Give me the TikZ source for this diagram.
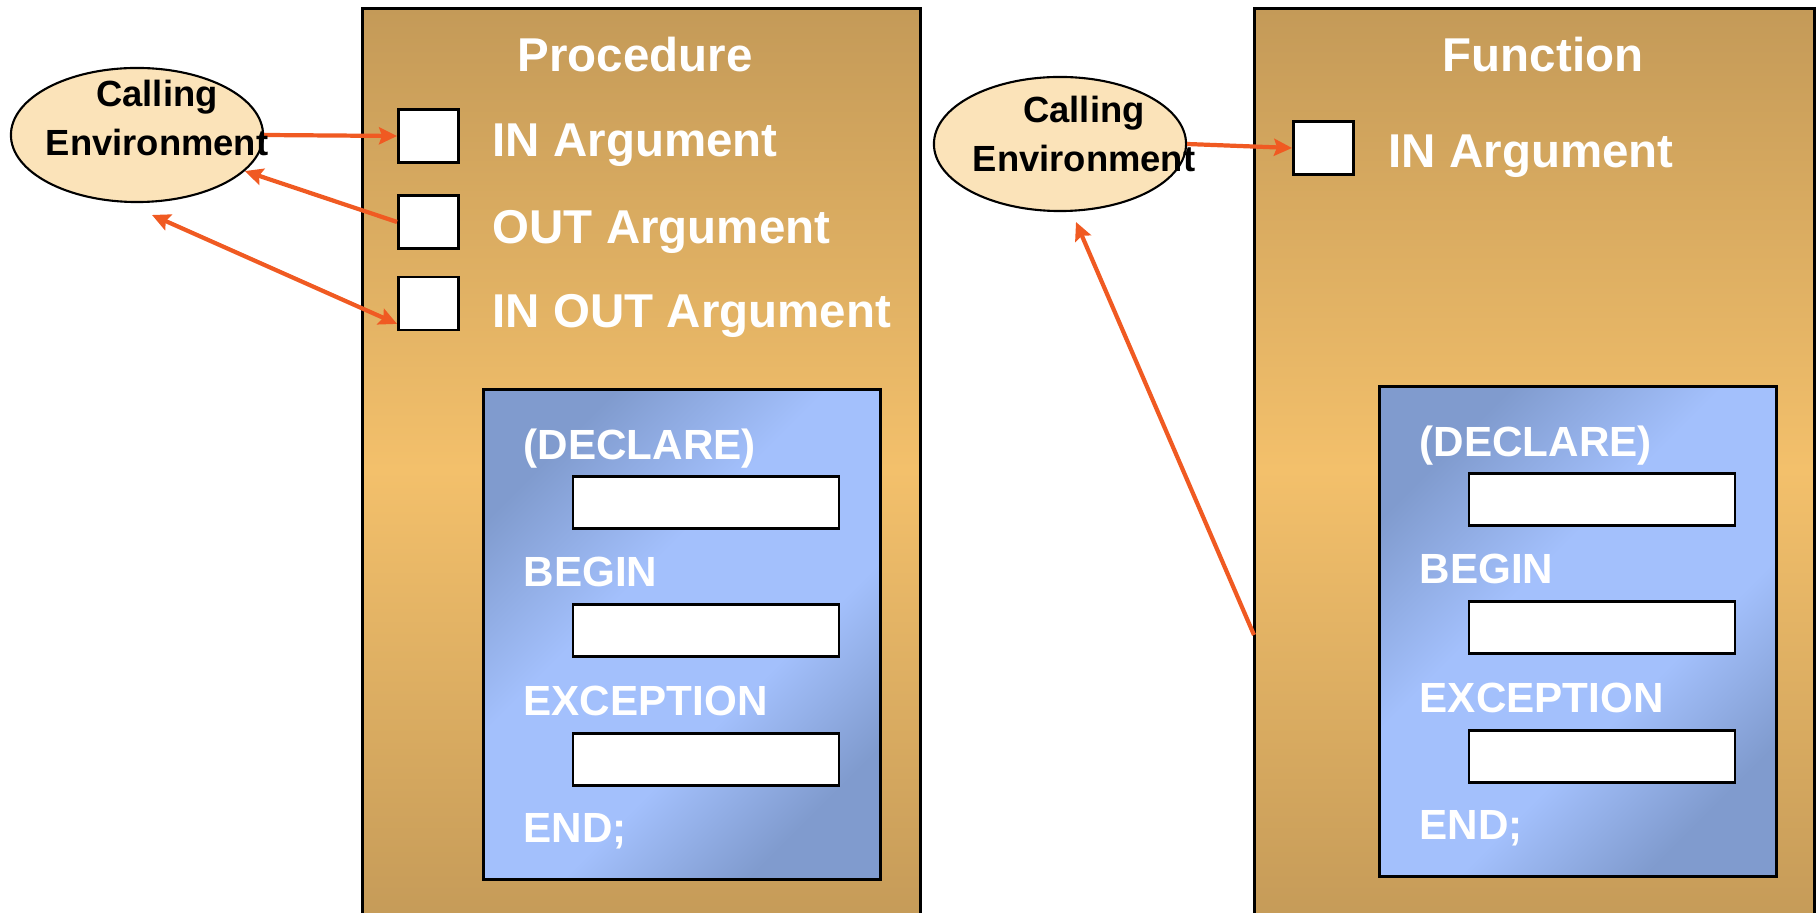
\documentclass[tikz,border=0pt]{standalone}
\usepackage{fontspec}
\setmainfont{Liberation Sans}
\usetikzlibrary{arrows.meta,shapes.geometric}
\definecolor{tanD}{RGB}{196,154,88}
\definecolor{tanL}{RGB}{243,192,107}
\definecolor{blueD}{RGB}{128,155,206}
\definecolor{blueL}{RGB}{163,192,252}
\definecolor{peach}{RGB}{251,227,185}
\definecolor{arrowred}{RGB}{240,90,34}
\pgfdeclareverticalshading{blockshade}{100bp}{color(0bp)=(blueD); color(25bp)=(blueD); color(40bp)=(blueL); color(58bp)=(blueL); color(75bp)=(blueD); color(100bp)=(blueD)}

\begin{document}
\begin{tikzpicture}[x=0.01cm,y=-0.01cm]
  \tikzstyle{panel}=[draw=black,line width=0.8pt,top color=tanD,bottom color=tanD,middle color=tanL,minimum width=5.57cm,minimum height=9.21cm,inner sep=0pt]
  \tikzstyle{block}=[draw=black,line width=0.8pt,shading=blockshade,shading angle=45,minimum width=3.96cm,minimum height=4.89cm,inner sep=0pt]
  \tikzstyle{argbox}=[draw=black,line width=0.8pt,fill=white,minimum width=0.6cm,minimum height=0.53cm,inner sep=0pt]
  \tikzstyle{slot}=[argbox,minimum width=2.66cm,minimum height=0.52cm]
  \tikzstyle{env}=[ellipse,draw=black,line width=0.6pt,fill=peach,minimum width=2.52cm,minimum height=1.34cm,inner sep=0pt]
  \tikzstyle{title}=[text=white,font=\fontsize{13.5}{16}\selectfont\bfseries,inner sep=0pt]
  \tikzstyle{kw}=[text=white,font=\fontsize{12}{14}\selectfont\bfseries,inner sep=0pt,anchor=base west]
  \tikzstyle{envtext}=[align=center,font=\fontsize{10.35}{13.8}\selectfont\bfseries,inner sep=0pt]
  \tikzstyle{link}=[draw=arrowred,line width=1.2pt,-{Stealth[length=0.18cm,width=0.17cm,inset=0.03cm]}]
  \tikzstyle{link2}=[link,{Stealth[length=0.18cm,width=0.17cm,inset=0.03cm]}-{Stealth[length=0.18cm,width=0.17cm,inset=0.03cm]}]

  \clip (0,0) rectangle (1820,913);

  \node[panel] (ppanel) at (641.5,469.5) {};
  \node[panel,minimum width=5.59cm] (fpanel) at (1534.5,469.5) {};

  \node[title,anchor=base] (ptitle) at (635,72) {Procedure};
  \node[title,anchor=base] (ftitle) at (1543,72) {Function};

  % argument boxes
  \node[argbox] (pin) at (428.5,136) {};
  \node[argbox] (pout) at (428.5,222) {};
  \node[argbox] (pinout) at (428.5,303.5) {};
  \node[argbox] (fin) at (1323.5,148) {};

  \node[title,anchor=base west] (pinlbl) at (492,157) {IN Argument};
  \node[title,anchor=base west] (poutlbl) at (492,244) {OUT Argument};
  \node[title,anchor=base west] (pinoutlbl) at (492,328) {IN OUT Argument};
  \node[title,anchor=base west] (finlbl) at (1388,168) {IN Argument};

  % the two blocks
  \foreach \n/\dx/\dy in {p/0/0,f/896/-3}{
    \begin{scope}[shift={(\dx,\dy)}]
      \node[block] (\n blk) at (682,634.5) {};
      \node[kw] (\n decl) at (523,460) {(DECLARE)};
      \node[slot] (\n s1) at (706,502.5) {};
      \node[kw] (\n begin) at (523,587) {BEGIN};
      \node[slot] (\n s2) at (706,630.5) {};
      \node[kw] (\n exc) at (523,716) {EXCEPTION};
      \node[slot] (\n s3) at (706,759.5) {};
      \node[kw] (\n end) at (523,843) {END;};
    \end{scope}
  }

  \node[env] (envp) at (137,135) {};
  \node[env] (envf) at (1060,144) {};

  \coordinate (pret) at (152,215);
  \coordinate (fstart) at (1254,635);
  \coordinate (fret) at (1076,222);

  \draw[link] (envp.east) -- (pin.west);
  \draw[link] (pout.west) -- (envp);
  \draw[link2] (pret) -- (pinout.213);
  \draw[link] (envf.east) -- (fin.west);
  \draw[link] (fstart) -- (fret);

  \node[envtext] (envptxt) at (157,118) {Calling\\Environment};
  \node[envtext] (envftxt) at (1084,134) {Calling\\Environment};

\end{tikzpicture}
\end{document}
